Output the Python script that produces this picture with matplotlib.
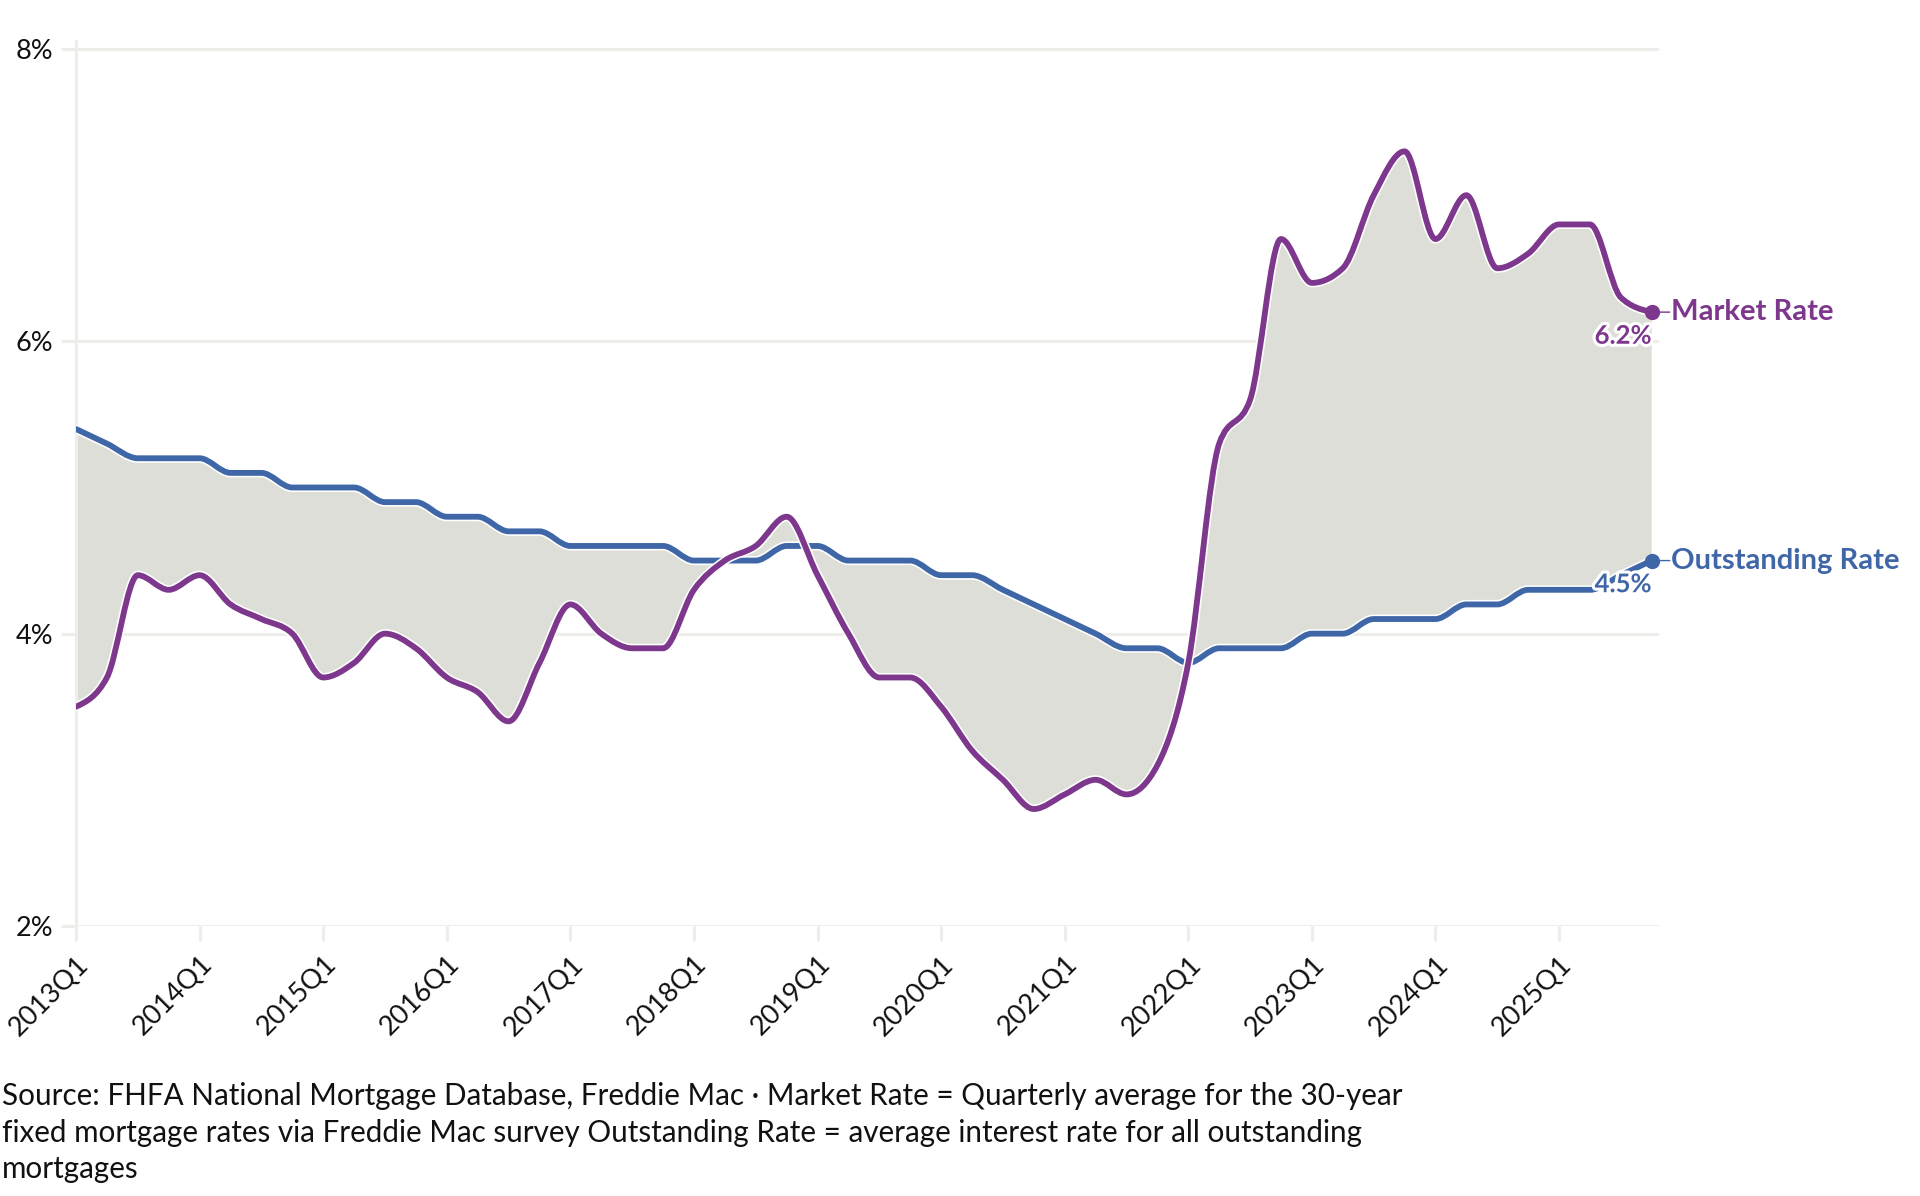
import numpy as np
import matplotlib
matplotlib.use("Agg")
import matplotlib.pyplot as plt
from matplotlib.path import Path
from matplotlib.patches import PathPatch
import matplotlib.patheffects as pe

plt.rcParams['font.family'] = ['Lato', 'DejaVu Sans']

# ---------------- data ----------------
years = list(range(2013, 2026))
quarters = [f"{y}Q{q}" for y in years for q in range(1, 5)]
tick_labels = [f"{y}Q1" for y in years]

market_rate = [3.5, 3.7, 4.4, 4.3,
               4.4, 4.2, 4.1, 4.0,
               3.7, 3.8, 4.0, 3.9,
               3.7, 3.6, 3.4, 3.8,
               4.2, 4.0, 3.9, 3.9,
               4.3, 4.5, 4.6, 4.8,
               4.4, 4.0, 3.7, 3.7,
               3.5, 3.2, 3.0, 2.8,
               2.9, 3.0, 2.9, 3.1,
               3.8, 5.3, 5.6, 6.7,
               6.4, 6.5, 7.0, 7.3,
               6.7, 7.0, 6.5, 6.6,
               6.8, 6.8, 6.3, 6.2]

outstanding_rate = [5.4, 5.3, 5.2, 5.2,
                    5.2, 5.1, 5.1, 5.0,
                    5.0, 5.0, 4.9, 4.9,
                    4.8, 4.8, 4.7, 4.7,
                    4.6, 4.6, 4.6, 4.6,
                    4.5, 4.5, 4.5, 4.6,
                    4.6, 4.5, 4.5, 4.5,
                    4.4, 4.4, 4.3, 4.2,
                    4.1, 4.0, 3.9, 3.9,
                    3.8, 3.9, 3.9, 3.9,
                    4.0, 4.0, 4.1, 4.1,
                    4.1, 4.2, 4.2, 4.3,
                    4.3, 4.3, 4.4, 4.5]

y_ticks = [2, 4, 6, 8]

PURPLE = "#7D378C"
BLUE = "#3F67A8"
FILL = "#DEDED9"
GRID = "#EDEDE9"

# ---------------- monotone cubic (d3 curveMonotoneX) ----------------
def _sign(v):
    return -1.0 if v < 0 else 1.0

def monotone_segments(x, y):
    x = np.asarray(x, float); y = np.asarray(y, float)
    n = len(x)
    t = np.zeros(n)
    for i in range(1, n - 1):
        h0 = x[i] - x[i - 1]; h1 = x[i + 1] - x[i]
        s0 = (y[i] - y[i - 1]) / h0; s1 = (y[i + 1] - y[i]) / h1
        p = (s0 * h1 + s1 * h0) / (h0 + h1)
        v = (_sign(s0) + _sign(s1)) * min(abs(s0), abs(s1), 0.5 * abs(p))
        t[i] = v if v else 0.0
    h = x[1] - x[0]
    t[0] = (3 * (y[1] - y[0]) / h - t[1]) / 2
    h = x[-1] - x[-2]
    t[-1] = (3 * (y[-1] - y[-2]) / h - t[-2]) / 2
    segs = []
    for i in range(n - 1):
        dx = (x[i + 1] - x[i]) / 3
        segs.append(((x[i], y[i]), (x[i] + dx, y[i] + dx * t[i]),
                     (x[i + 1] - dx, y[i + 1] - dx * t[i + 1]), (x[i + 1], y[i + 1])))
    return segs

def curve_path(segs):
    verts = [segs[0][0]]; codes = [Path.MOVETO]
    for s in segs:
        verts += [s[1], s[2], s[3]]
        codes += [Path.CURVE4] * 3
    return Path(verts, codes)

xs = np.arange(len(quarters))
seg_m = monotone_segments(xs, market_rate)
seg_o = monotone_segments(xs, outstanding_rate)

# fill polygon between the two curves
verts = [seg_m[0][0]]; codes = [Path.MOVETO]
for s in seg_m:
    verts += [s[1], s[2], s[3]]; codes += [Path.CURVE4] * 3
verts.append(seg_o[-1][3]); codes.append(Path.LINETO)
for s in reversed(seg_o):
    verts += [s[2], s[1], s[0]]; codes += [Path.CURVE4] * 3
verts.append(seg_m[0][0]); codes.append(Path.CLOSEPOLY)
fill_path = Path(verts, codes)

# ---------------- figure ----------------
fig = plt.figure(figsize=(19.2, 11.96), dpi=100)
ax = fig.add_axes([0.0396, 0.2258, 0.8247, 0.7399])
ax.set_xlim(0, 51.25)
ax.set_ylim(2, 8.055)

ax.add_patch(PathPatch(fill_path, facecolor=FILL, edgecolor='none', zorder=1))

for ytk in y_ticks:
    ax.axhline(ytk, color=GRID, lw=2.2, zorder=0.5)

halo = [pe.Stroke(linewidth=6.5, foreground='white'), pe.Normal()]
ax.add_patch(PathPatch(curve_path(seg_o), facecolor='none', edgecolor=BLUE,
                       lw=4.2, zorder=3, capstyle='round', joinstyle='round',
                       path_effects=halo))
ax.add_patch(PathPatch(curve_path(seg_m), facecolor='none', edgecolor=PURPLE,
                       lw=4.2, zorder=4, capstyle='round', joinstyle='round',
                       path_effects=halo))

# end points and labels
last = xs[-1]
for val, col, name in [(market_rate[-1], PURPLE, "Market Rate"),
                       (outstanding_rate[-1], BLUE, "Outstanding Rate")]:
    ax.plot([last], [val], 'o', color=col, ms=10, zorder=6, clip_on=False)
    ax.annotate("", xy=(last, val), xytext=(13, 0), textcoords='offset points',
                arrowprops=dict(arrowstyle='-', color=col, lw=1.0, shrinkA=0, shrinkB=0),
                annotation_clip=False, zorder=5)
    ax.annotate(name, xy=(last, val), xytext=(14, 0), textcoords='offset points',
                ha='left', va='center', fontsize=21, fontweight='bold', color=col,
                annotation_clip=False)
    ax.annotate(f"{val:.1f}%", xy=(last, val), xytext=(0, -17), textcoords='offset points',
                ha='right', va='center', fontsize=18.5, fontweight='bold', color=col,
                annotation_clip=False, zorder=7,
                path_effects=[pe.Stroke(linewidth=4.5, foreground='white'), pe.Normal()])

# axes styling
for sp in ['top', 'right', 'bottom']:
    ax.spines[sp].set_visible(False)
ax.spines['left'].set_color(GRID)
ax.spines['left'].set_linewidth(2.2)

ax.set_yticks(y_ticks)
ax.set_yticklabels([f"{v}%" for v in y_ticks])
ax.set_xticks(xs[::4])
ax.set_xticklabels(tick_labels, rotation=45, ha='right', va='top',
                   rotation_mode='anchor')
ax.tick_params(axis='both', colors=GRID, length=10.5, width=2.2,
               labelcolor='#111111', labelsize=19.5, pad=6)
ax.tick_params(axis='x', pad=8)

# source note
src = ["Source: FHFA National Mortgage Database, Freddie Mac · Market Rate = Quarterly average for the 30-year",
       "fixed mortgage rates via Freddie Mac survey Outstanding Rate = average interest rate for all outstanding",
       "mortgages"]
for i, line in enumerate(src):
    fig.text(0.001, [0.0760, 0.0455, 0.0150][i], line, ha='left', va='baseline',
             fontsize=21.3, color='#111111')

fig.savefig("out.png", dpi=100, facecolor='white')
